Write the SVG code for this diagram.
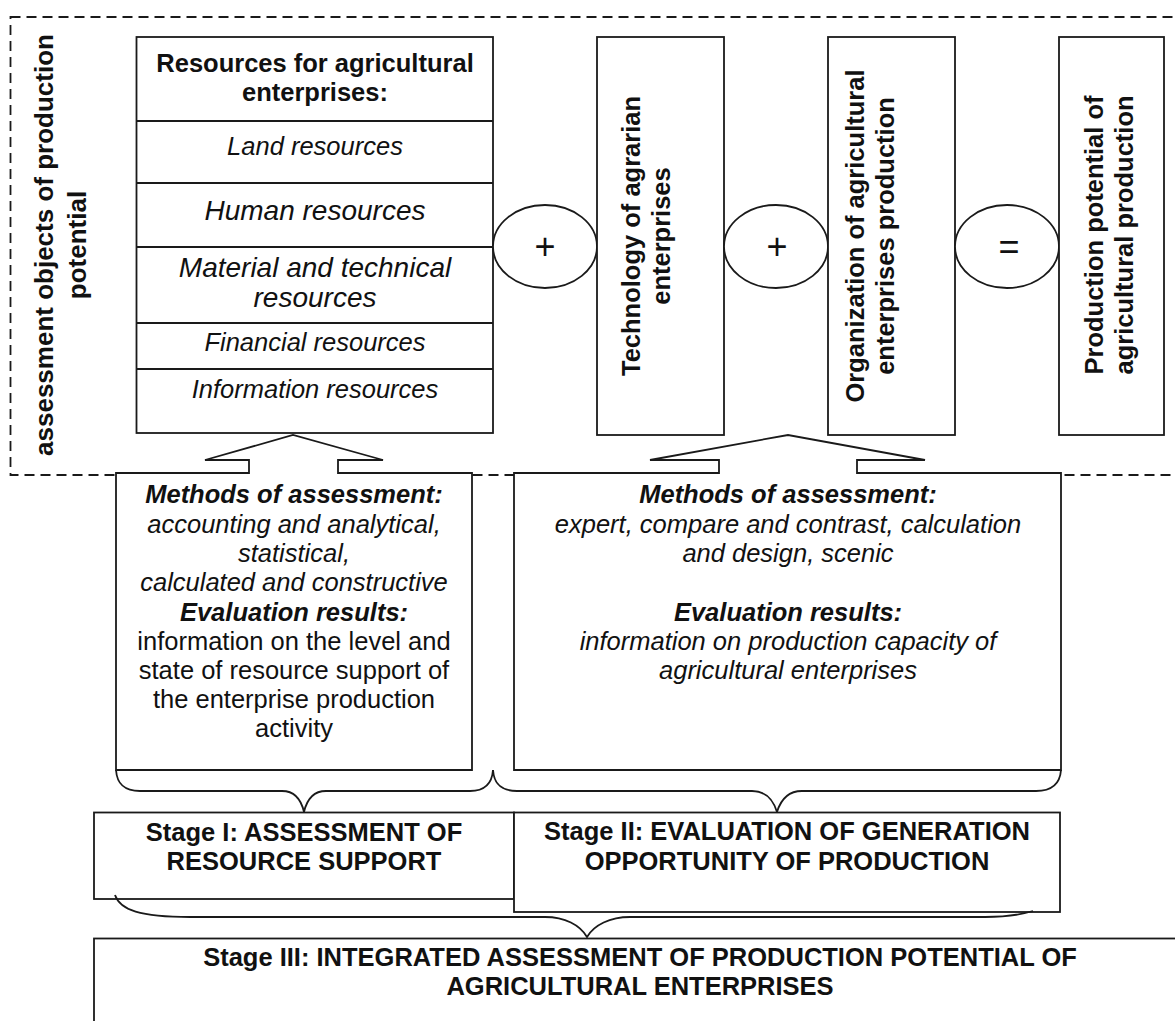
<svg xmlns="http://www.w3.org/2000/svg" width="1175" height="1021" viewBox="0 0 1175 1021">
<style>
  .ln{fill:#fff;stroke:#1a1a1a;stroke-width:1.8}
  .br{fill:none;stroke:#1a1a1a;stroke-width:1.8}
  .dash{fill:none;stroke:#1a1a1a;stroke-width:1.8;stroke-dasharray:10 6}
  text{font-family:"Liberation Sans",Arial,sans-serif;fill:#111;text-anchor:middle;font-size:25.5px}
  .b{font-weight:bold}
  .i{font-style:italic}
  .bi{font-weight:bold;font-style:italic}
  .big{font-size:28px}
  .op{font-size:36px}
</style>
<rect width="1175" height="1021" fill="#fff"/>

<g id="frame">
  <rect class="dash" x="10.5" y="17" width="1175" height="458"/>
  <text class="b" style="font-size:26px" transform="translate(53,245) rotate(-90)">assessment objects of production</text>
  <text class="b" style="font-size:26px" transform="translate(86,245) rotate(-90)">potential</text>
</g>

<g id="resources">
  <rect class="ln" x="136.5" y="37" width="356.5" height="396"/>
  <line class="br" x1="136.5" y1="121" x2="493" y2="121"/>
  <line class="br" x1="136.5" y1="183" x2="493" y2="183"/>
  <line class="br" x1="136.5" y1="247" x2="493" y2="247"/>
  <line class="br" x1="136.5" y1="323" x2="493" y2="323"/>
  <line class="br" x1="136.5" y1="369" x2="493" y2="369"/>
  <text class="b" x="315" y="72">Resources for agricultural</text>
  <text class="b" x="315" y="101">enterprises:</text>
  <text class="i" x="315" y="155">Land resources</text>
  <text class="i big" x="315" y="220">Human resources</text>
  <text class="i big" x="315" y="277">Material and technical</text>
  <text class="i big" x="315" y="307">resources</text>
  <text class="i" x="315" y="351">Financial resources</text>
  <text class="i" x="315" y="398">Information resources</text>
</g>

<g id="plus1">
  <ellipse class="ln" cx="545" cy="246.5" rx="52" ry="41.5"/>
  <text class="op" x="545" y="259">+</text>
</g>

<g id="technology">
  <rect class="ln" x="597" y="37" width="127" height="398"/>
  <text class="b" transform="translate(640,236) rotate(-90)">Technology of agrarian</text>
  <text class="b" transform="translate(670,236) rotate(-90)">enterprises</text>
</g>

<g id="plus2">
  <ellipse class="ln" cx="776" cy="246.5" rx="52" ry="41.5"/>
  <text class="op" x="777" y="259">+</text>
</g>

<g id="organization">
  <rect class="ln" x="828" y="37" width="127" height="398"/>
  <text class="b" transform="translate(864,236) rotate(-90)">Organization of agricultural</text>
  <text class="b" transform="translate(894,236) rotate(-90)">enterprises production</text>
</g>

<g id="equals">
  <ellipse class="ln" cx="1007" cy="246.5" rx="52" ry="41.5"/>
  <text class="op" x="1009" y="259">=</text>
</g>

<g id="potential">
  <rect class="ln" x="1059" y="37" width="105" height="398"/>
  <text class="b" transform="translate(1103,235) rotate(-90)">Production potential of</text>
  <text class="b" transform="translate(1133,235) rotate(-90)">agricultural production</text>
</g>

<g id="methods1">
  <path class="ln" d="M116,473 L249,473 L249,460 L205,460 L293,435 L383,460 L338,460 L338,473 L472,473 L472,770 L116,770 Z"/>
  <text class="bi" x="294" y="503">Methods of assessment:</text>
  <text class="i" x="294" y="532.5">accounting and analytical,</text>
  <text class="i" x="294" y="561.5">statistical,</text>
  <text class="i" x="294" y="591">calculated and constructive</text>
  <text class="bi" x="294" y="620.5">Evaluation results:</text>
  <text x="294" y="649.5">information on the level and</text>
  <text x="294" y="679">state of resource support of</text>
  <text x="294" y="708">the enterprise production</text>
  <text x="294" y="737">activity</text>
</g>

<g id="methods2">
  <path class="ln" d="M514,473 L719,473 L719,460 L650,460 L788,435 L925,460 L857,460 L857,473 L1061,473 L1061,770 L514,770 Z"/>
  <text class="bi" x="788" y="503">Methods of assessment:</text>
  <text class="i" x="788" y="532.5">expert, compare and contrast, calculation</text>
  <text class="i" x="788" y="561.5">and design, scenic</text>
  <text class="bi" x="788" y="620.5">Evaluation results:</text>
  <text class="i" x="788" y="649.5">information on production capacity of</text>
  <text class="i" x="788" y="678.5">agricultural enterprises</text>
</g>

<g id="connectors">
  <path class="br" d="M116,770 C117,784 124,791 140,791 L282,791 C294,791 301,799 304,812 C307,799 314,791 326,791 L470,791 C485,791 492,784 493,770"/>
  <path class="br" d="M493,770 C494,784 501,791 517,791 L752,791 C765,791 773,799 777,812 C781,799 789,791 802,791 L1036,791 C1052,791 1060,784 1061,770"/>
</g>

<g id="stage1">
  <rect class="ln" x="94" y="812.5" width="420" height="86.5"/>
  <text class="b" x="304" y="841">Stage I: ASSESSMENT OF</text>
  <text class="b" x="304" y="870">RESOURCE SUPPORT</text>
</g>

<g id="stage2">
  <rect class="ln" x="514" y="812.5" width="546" height="99.5"/>
  <text class="b" x="787" y="840">Stage II: EVALUATION OF GENERATION</text>
  <text class="b" x="787" y="870">OPPORTUNITY OF PRODUCTION</text>
</g>

<g id="connectors2">
  <path class="br" d="M115,895 C120,910 140,917 190,917 L545,917 C565,917 580,925 587,937 C594,925 610,917 630,917 L985,917 C1005,917 1020,915 1033,911"/>
</g>

<g id="stage3">
  <rect class="ln" x="94" y="938.5" width="1090" height="100"/>
  <text class="b" x="640" y="966">Stage III: INTEGRATED ASSESSMENT OF PRODUCTION POTENTIAL OF</text>
  <text class="b" x="640" y="995">AGRICULTURAL ENTERPRISES</text>
</g>
</svg>
